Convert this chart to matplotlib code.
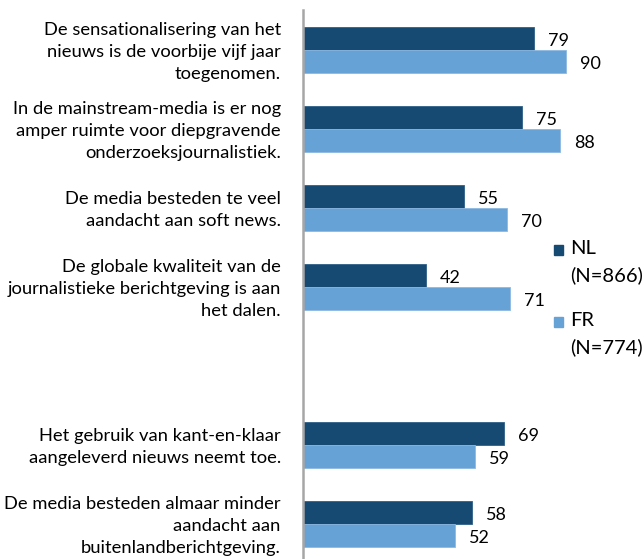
import matplotlib.pyplot as plt
from matplotlib.patches import Rectangle

plt.rcParams['font.family'] = ['Lato', 'DejaVu Sans']

labels = [
    "De sensationalisering van het\nnieuws is de voorbije vijf jaar\ntoegenomen.",
    "In de mainstream-media is er nog\namper ruimte voor diepgravende\nonderzoeksjournalistiek.",
    "De media besteden te veel\naandacht aan soft news.",
    "De globale kwaliteit van de\njournalistieke berichtgeving is aan\nhet dalen.",
    "Het gebruik van kant-en-klaar\naangeleverd nieuws neemt toe.",
    "De media besteden almaar minder\naandacht aan\nbuitenlandberichtgeving.",
]
slots = [0, 1, 2, 3, 5, 6]   # slot 4 is left empty
nl = [79, 75, 55, 42, 69, 58]
fr = [90, 88, 70, 71, 59, 52]

dark = '#174A73'
light = '#67A2D6'

fig = plt.figure(figsize=(6.44, 5.59), dpi=100)
ax = fig.add_axes([303/644, 0, (595-303)/644, 1-10/559])

h = 0.29
ax.barh([s - h/2 for s in slots], nl, height=h, color=dark, edgecolor='#2E5F88', linewidth=0.6)
ax.barh([s + h/2 for s in slots], fr, height=h, color=light, edgecolor='#8DB9E2', linewidth=0.6)

for s, a, b in zip(slots, nl, fr):
    ax.annotate(str(a), (a, s - h/2), xytext=(10, -1.5), textcoords='offset points',
                va='center', ha='left', fontsize=13, annotation_clip=False)
    ax.annotate(str(b), (b, s + h/2), xytext=(10, -1.5), textcoords='offset points',
                va='center', ha='left', fontsize=13, annotation_clip=False)

for s, t in zip(slots, labels):
    ax.annotate(t, (0, s), xytext=(-16, -1.5), textcoords='offset points',
                va='center', ha='right', fontsize=13.2, linespacing=1.48,
                annotation_clip=False)

ax.set_xlim(0, 100)
ax.set_ylim((559-50)/79, -40/79)
for sp in ['top', 'right', 'bottom']:
    ax.spines[sp].set_visible(False)
ax.spines['left'].set_color('#A6A6A6')
ax.spines['left'].set_linewidth(1.8)
ax.set_xticks([])
ax.set_yticks([])

# legend
for y0, col, name, n in [(240, dark, 'NL', '(N=866)'), (312, light, 'FR', '(N=774)')]:
    fig.patches.append(Rectangle((554/644, 1-(y0+15)/559), 9/644, 10/559,
                                 transform=fig.transFigure, color=col))
    fig.text(570/644, 1-y0/559, name + '\n' + n, fontsize=14.5, va='top',
             ha='left', linespacing=1.65)

fig.savefig('out.png', dpi=100)
